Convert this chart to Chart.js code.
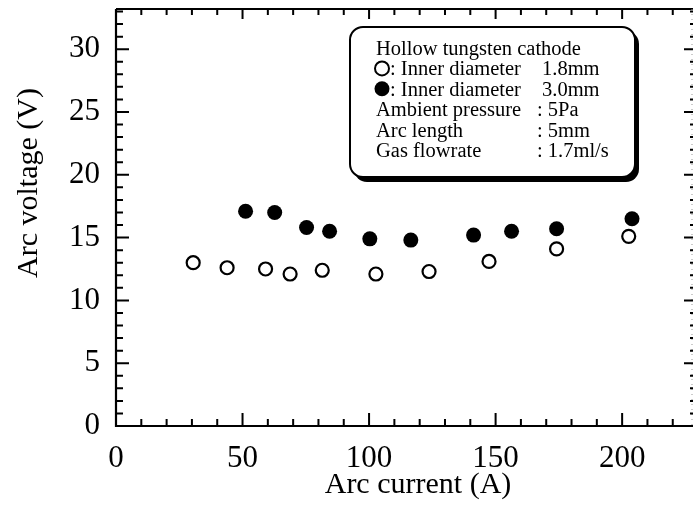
<!DOCTYPE html>
<html>
<head>
<meta charset="utf-8">
<script src="https://cdn.jsdelivr.net/npm/chart.js@4"></script>
<style>
  html, body { margin: 0; padding: 0; background: #fff; }
  #wrap { width: 693px; height: 511px; }
</style>
</head>
<body>
<div id="wrap"><canvas id="arcChart" width="693" height="511"></canvas></div>
<script>
// arc current (A) vs arc voltage (V)
var current18 = [30.5, 43.9, 59.1, 68.8, 81.5, 102.7, 123.7, 147.4, 174.1, 202.6];
var voltage18 = [13.0, 12.6, 12.5, 12.1, 12.4, 12.1, 12.3, 13.1, 14.1, 15.1];
var current30 = [51.2, 62.7, 75.3, 84.4, 100.3, 116.5, 141.3, 156.3, 174.1, 203.9];
var voltage30 = [17.1, 17.0, 15.8, 15.5, 14.9, 14.8, 15.2, 15.5, 15.7, 16.5];

var xTicks = [0, 50, 100, 150, 200];
var yTicks = [0, 5, 10, 15, 20, 25, 30];

var legendLines = [
  ["Hollow tungsten cathode", ""],
  [": Inner diameter", "1.8mm"],
  [": Inner diameter", "3.0mm"],
  ["Ambient pressure", ": 5Pa"],
  ["Arc length", ": 5mm"],
  ["Gas flowrate", ": 1.7ml/s"]
];

var serif = "'Liberation Serif', 'Times New Roman', serif";

function toPoints(xs, ys) {
  return xs.map(function (x, i) { return { x: x, y: ys[i] }; });
}

function noPad(s) {
  s.paddingTop = 0; s.paddingBottom = 0; s.paddingLeft = 0; s.paddingRight = 0;
}

// inward ticks on all four sides, plus titles and the boxed legend
var framePlugin = {
  id: 'frame',
  afterDraw: function (chart) {
    var ctx = chart.ctx;
    var xs = chart.scales.x, ys = chart.scales.y;
    var a = chart.chartArea;
    ctx.save();
    ctx.strokeStyle = '#000';
    ctx.lineCap = 'butt';

    // left + bottom axis lines
    ctx.lineWidth = 2.2;
    ctx.beginPath();
    ctx.moveTo(a.left, a.top);
    ctx.lineTo(a.left, a.bottom);
    ctx.lineTo(a.right, a.bottom);
    ctx.stroke();
    // top line
    ctx.lineWidth = 1.8;
    ctx.beginPath();
    ctx.moveTo(a.left, a.top);
    ctx.lineTo(a.right, a.top);
    ctx.stroke();
    // faint dotted right side
    ctx.save();
    ctx.lineWidth = 1;
    ctx.strokeStyle = '#999';
    ctx.setLineDash([1, 4]);
    ctx.beginPath();
    ctx.moveTo(a.right - 1, a.top);
    ctx.lineTo(a.right - 1, a.bottom);
    ctx.stroke();
    ctx.restore();

    // x ticks, bottom and top
    ctx.lineWidth = 2;
    for (var v = 0; v <= xs.max; v += 10) {
      var px = xs.getPixelForValue(v);
      var major = v % 50 === 0;
      ctx.beginPath();
      ctx.moveTo(px, a.bottom);
      ctx.lineTo(px, a.bottom - (major ? 13 : 7));
      ctx.moveTo(px, a.top);
      ctx.lineTo(px, a.top + (major ? 10 : 6));
      ctx.stroke();
    }
    // y ticks, left and right
    for (var w = 0; w <= ys.max; w += 1) {
      var py = ys.getPixelForValue(w);
      var maj = w % 5 === 0;
      ctx.beginPath();
      ctx.moveTo(a.left, py);
      ctx.lineTo(a.left + (maj ? 13 : 7), py);
      ctx.moveTo(a.right, py);
      ctx.lineTo(a.right - (maj ? 9 : 3), py);
      ctx.stroke();
    }

    // axis titles
    ctx.fillStyle = '#000';
    ctx.font = '30px ' + serif;
    ctx.textAlign = 'center';
    ctx.textBaseline = 'alphabetic';
    ctx.fillText('Arc current (A)', 418, 493);
    ctx.save();
    ctx.translate(37, 183);
    ctx.rotate(-Math.PI / 2);
    ctx.fillText('Arc voltage (V)', 0, 0);
    ctx.restore();

    // legend box with drop shadow
    ctx.fillStyle = '#000';
    ctx.beginPath();
    ctx.roundRect(354, 31, 285, 151, 13);
    ctx.fill();
    ctx.fillStyle = '#fff';
    ctx.lineWidth = 2;
    ctx.beginPath();
    ctx.roundRect(350, 27, 285, 150, 13);
    ctx.fill();
    ctx.stroke();

    ctx.fillStyle = '#000';
    ctx.font = '20.5px ' + serif;
    ctx.textAlign = 'left';
    legendLines.forEach(function (row, i) {
      var base = 55 + i * 20.4;
      var x0 = (i === 1 || i === 2) ? 390 : 376;
      ctx.fillText(row[0], x0, base);
      if (row[1]) ctx.fillText(row[1], row[1].charAt(0) === ':' ? 537 : 542, base);
      if (i === 1) {
        ctx.lineWidth = 2;
        ctx.beginPath();
        ctx.arc(382, base - 7, 7, 0, Math.PI * 2);
        ctx.stroke();
      } else if (i === 2) {
        ctx.beginPath();
        ctx.arc(382, base - 7, 7.5, 0, Math.PI * 2);
        ctx.fill();
      }
    });
    ctx.restore();
  }
};

var ctx = document.getElementById('arcChart').getContext('2d');
var arcChart = new Chart(ctx, {
  type: 'scatter',
  data: {
    datasets: [
      {
        label: 'Inner diameter 1.8mm',
        data: toPoints(current18, voltage18),
        pointRadius: 6.5,
        pointBorderWidth: 2.2,
        pointBorderColor: '#000',
        pointBackgroundColor: '#fff'
      },
      {
        label: 'Inner diameter 3.0mm',
        data: toPoints(current30, voltage30),
        pointRadius: 7.5,
        pointBorderWidth: 0,
        pointBorderColor: '#000',
        pointBackgroundColor: '#000'
      }
    ]
  },
  options: {
    responsive: false,
    animation: false,
    layout: { autoPadding: false, padding: { top: 9, right: 0, bottom: 0, left: 0 } },
    plugins: { legend: { display: false }, tooltip: { enabled: false } },
    scales: {
      x: {
        type: 'linear',
        min: 0,
        max: 228,
        grid: { display: false, drawTicks: false },
        border: { display: false },
        afterBuildTicks: function (s) { s.ticks = xTicks.map(function (v) { return { value: v }; }); },
        afterFit: function (s) { s.height = 85; noPad(s); },
        ticks: {
          color: '#000',
          padding: 14,
          maxRotation: 0,
          font: { family: serif, size: 31 }
        }
      },
      y: {
        type: 'linear',
        min: 0,
        max: 33.2,
        grid: { display: false, drawTicks: false },
        border: { display: false },
        afterBuildTicks: function (s) { s.ticks = yTicks.map(function (v) { return { value: v }; }); },
        afterFit: function (s) { s.width = 116; noPad(s); },
        ticks: {
          color: '#000',
          padding: 16,
          font: { family: serif, size: 31 }
        }
      }
    }
  },
  plugins: [framePlugin]
});
</script>
</body>
</html>
